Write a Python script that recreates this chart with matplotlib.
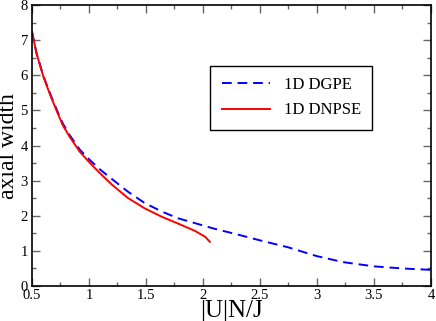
import matplotlib
matplotlib.use("Agg")
import matplotlib.pyplot as plt
from matplotlib.ticker import MultipleLocator, FuncFormatter

plt.rcParams['font.family'] = ['Liberation Serif', 'DejaVu Serif']

dgpe_x = [0.5, 0.54, 0.6, 0.66, 0.72, 0.77, 0.83, 0.92, 1.01, 1.1, 1.2, 1.34, 1.49,
          1.64, 1.78, 1.93, 2.09, 2.3, 2.5, 2.75, 3.0, 3.23, 3.5, 3.75, 4.0]
dgpe_y = [7.24, 6.63, 5.98, 5.47, 5.0, 4.63, 4.3, 3.88, 3.58, 3.31, 3.05, 2.69, 2.36,
          2.12, 1.93, 1.79, 1.64, 1.47, 1.3, 1.1, 0.85, 0.68, 0.56, 0.5, 0.46]

dnpse_x = [0.5, 0.54, 0.6, 0.66, 0.72, 0.77, 0.83, 0.92, 1.01, 1.1, 1.2, 1.34, 1.49,
           1.64, 1.78, 1.93, 2.02, 2.06]
dnpse_y = [7.24, 6.62, 5.96, 5.44, 4.96, 4.58, 4.25, 3.82, 3.5, 3.2, 2.89, 2.51, 2.21,
           1.97, 1.78, 1.57, 1.4, 1.26]

fig = plt.figure(figsize=(4.36, 3.21), dpi=100)
ax = fig.add_axes([0.0734, 0.109, 0.915, 0.875])

ax.plot(dgpe_x, dgpe_y, color='#0000ff', lw=1.4, dashes=(5, 3), label='1D DGPE')
ax.plot(dnpse_x, dnpse_y, color='#ff0000', lw=1.4, label='1D DNPSE')

ax.set_xlim(0.5, 4)
ax.set_ylim(0, 8)
ax.xaxis.set_major_locator(MultipleLocator(0.5))
ax.xaxis.set_minor_locator(MultipleLocator(0.25))
ax.yaxis.set_major_locator(MultipleLocator(1))
ax.yaxis.set_minor_locator(MultipleLocator(0.5))
ax.tick_params(which='both', direction='in', top=True, right=True, labelsize=10.5,
               color='#666666')
ax.tick_params(axis='x', which='both', pad=2)
ax.tick_params(axis='y', which='both', pad=3)
ax.tick_params(which='major', length=6, width=1)
ax.tick_params(which='minor', length=3, width=1)
ax.xaxis.set_major_formatter(FuncFormatter(lambda v, p: '%g' % v))
ax.yaxis.set_major_formatter(FuncFormatter(lambda v, p: '%g' % v))
for s in ax.spines.values():
    s.set_linewidth(1.2)

ax.set_xlabel('|U|N/J', fontsize=18, labelpad=-1)
ax.set_ylabel('axial width', fontsize=17, labelpad=1)

leg = ax.legend(loc='upper left', bbox_to_anchor=(0.447, 0.785), fontsize=12,
                frameon=True, fancybox=False, edgecolor='black', framealpha=1,
                handlelength=2.9, borderpad=0.7, labelspacing=0.55, handletextpad=0.8,
                borderaxespad=0)
leg.get_frame().set_linewidth(1.0)

fig.savefig('out.png', dpi=100)
